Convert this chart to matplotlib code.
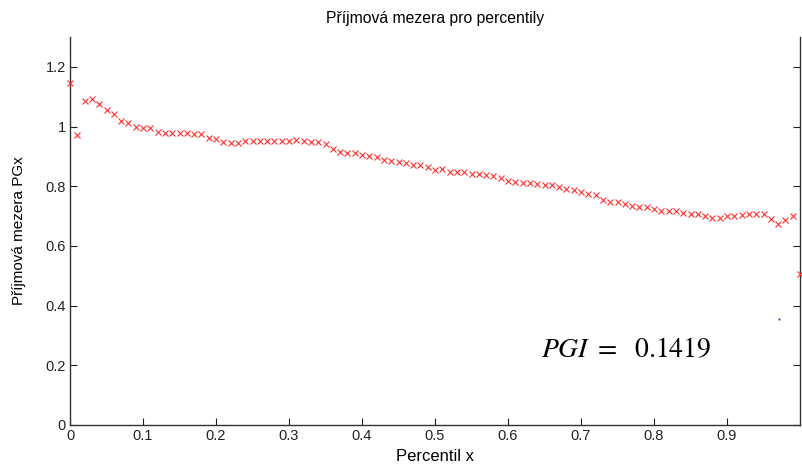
import matplotlib
matplotlib.use("Agg")
import matplotlib.pyplot as plt
import numpy as np

plt.rcParams['font.family'] = ['Liberation Sans', 'DejaVu Sans']
plt.rcParams['mathtext.fontset'] = 'stix'

# percentily 0, 0.01, ..., 1
percentil = np.arange(101) / 100.0

# prijmova mezera PGx pro kazdy percentil
pgx = [1.145, 0.970, 1.085, 1.093, 1.076, 1.054, 1.042, 1.020, 1.011, 0.998,
       0.996, 0.996, 0.981, 0.978, 0.978, 0.978, 0.978, 0.976, 0.976, 0.963,
       0.959, 0.948, 0.946, 0.946, 0.953, 0.951, 0.951, 0.953, 0.953, 0.951,
       0.951, 0.956, 0.951, 0.948, 0.948, 0.942, 0.925, 0.914, 0.913, 0.912,
       0.903, 0.901, 0.897, 0.889, 0.884, 0.881, 0.879, 0.870, 0.870, 0.864,
       0.855, 0.858, 0.847, 0.847, 0.847, 0.842, 0.840, 0.837, 0.834, 0.828,
       0.819, 0.814, 0.812, 0.812, 0.808, 0.803, 0.803, 0.797, 0.792, 0.786,
       0.780, 0.775, 0.769, 0.755, 0.747, 0.747, 0.740, 0.734, 0.730, 0.730,
       0.725, 0.717, 0.717, 0.717, 0.711, 0.708, 0.706, 0.700, 0.695, 0.695,
       0.700, 0.700, 0.702, 0.706, 0.706, 0.708, 0.691, 0.675, 0.688, 0.700,
       0.505]

pgi = 0.1419

fig = plt.figure(figsize=(8.03, 4.66), dpi=100)
ax = fig.add_axes([0.0872, 0.088, 0.9091, 0.8326])

ax.plot(percentil, pgx, 'x', color='#ff3030', markersize=5, markeredgewidth=0.8,
        clip_on=False, zorder=3)
# osamely bod v grafu
ax.plot([0.971], [0.354], '.', color='#404090', markersize=1.2)

ax.set_xlim(0, 1)
ax.set_ylim(0, 1.3)
ax.set_xticks(np.arange(0, 1.0, 0.1))
ax.set_xticklabels(['0', '0.1', '0.2', '0.3', '0.4', '0.5', '0.6', '0.7', '0.8', '0.9'])
ax.set_yticks([0, 0.2, 0.4, 0.6, 0.8, 1.0, 1.2])
ax.set_yticklabels(['0', '0.2', '0.4', '0.6', '0.8', '1', '1.2'])
ax.tick_params(direction='in', length=5, width=0.8, labelsize=10.5, colors='#222222',
               right=True, top=False, pad=3)
for s in ax.spines.values():
    s.set_color('#333333')
    s.set_linewidth(1.0)
ax.spines['top'].set_visible(False)

ax.set_title('Příjmová mezera pro percentily', fontsize=11.3, pad=10)
ax.set_xlabel('Percentil x', fontsize=12, labelpad=4)
ax.set_ylabel('Příjmová mezera PGx', fontsize=11, labelpad=14)

ax.text(0.645, 0.193, r'$PGI\ =\ \ \mathrm{%.4f}$' % pgi, transform=ax.transAxes,
        fontsize=20, va='center', ha='left')

fig.savefig('out.png', dpi=100)
